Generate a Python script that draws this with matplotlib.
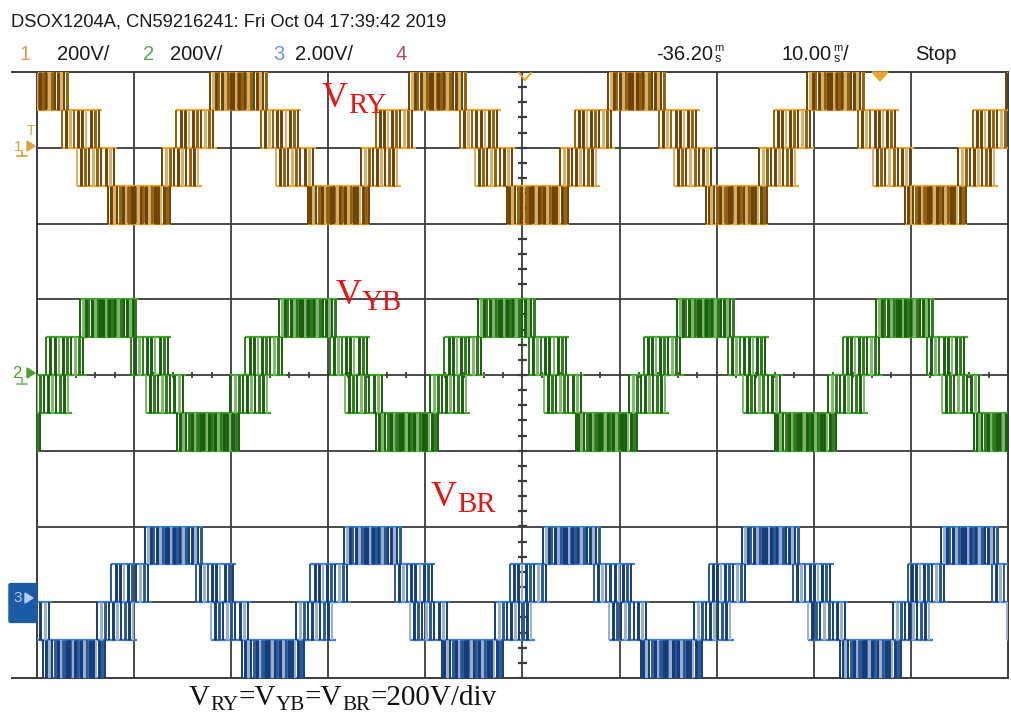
import numpy as np
import matplotlib
matplotlib.use('Agg')
import matplotlib.pyplot as plt
from matplotlib.lines import Line2D
from matplotlib.patches import FancyBboxPatch, Polygon

W, H, DPI = 1012, 715, 100

# ---------------- data ----------------
n_xdiv = 10            # horizontal divisions (10 ms/div)
n_ydiv = 8             # vertical divisions (200 V/div)
ms_per_div = 10.0
period_ms = 20.5       # fundamental period seen on screen
channel_names = ['VRY', 'VYB', 'VBR']
channel_ground_div = [3.0, 0.0, -3.0]     # ground marker of each trace
channel_peak_ms = [20.8, 7.4, 14.1]       # time of a positive peak of each trace
level_step_div = 0.5                      # one inverter level = 100 V
# staircase bands of one period, angle relative to the positive peak
band_lo = [1, 0, 0, -1, -1, -2]
band_hi = [2, 1, 1, 0, 0, -1]
band_start_deg = [-52, 40, -113, 67, -140, 124]
band_end_deg = [52, 113, -40, 140, -67, 236]
band_pulse_ms = [0.30, 0.42, 0.42, 0.42, 0.42, 0.30]

channel_dark = ['#704200', '#18600a', '#123c7c']
channel_light = ['#d8b068', '#7fb86c', '#9ab0d0']
channel_mid = ['#94600a', '#2c7a1c', '#285898']
channel_trace = ['#f0a428', '#3fa82a', '#3b7fd0']

header_left = 'DSOX1204A, CN59216241: Fri Oct 04 17:39:42 2019'
ch_scale_labels = ['200V/', '200V/', '2.00V/', '']
ch_label_colors = ['#d9a050', '#64a050', '#6a98c8', '#b0485e']

fig = plt.figure(figsize=(W / DPI, H / DPI), dpi=DPI)
fig.patch.set_facecolor('white')

L, R, T, B = 37, 1008, 72, 678
ax = fig.add_axes([L / W, 1 - B / H, (R - L) / W, (B - T) / H])
ax.set_xlim(0, n_xdiv * ms_per_div)
ax.set_ylim(-n_ydiv / 2, n_ydiv / 2)
ax.set_xticks([]); ax.set_yticks([])
grid_c = '#3c3c3c'
for s in ax.spines.values():
    s.set_color(grid_c); s.set_linewidth(1.4)

for i in range(1, n_xdiv):
    ax.axvline(i * ms_per_div, color=grid_c, lw=1.3, zorder=1)
for j in range(1, n_ydiv):
    ax.axhline(-n_ydiv / 2 + j, color=grid_c, lw=1.3, zorder=1)
# minor ticks on centre lines
xc = n_xdiv * ms_per_div / 2
ax.vlines(np.arange(0, 100.01, 2.0), -0.045, 0.045, color=grid_c, lw=1.3, zorder=1)
ax.hlines(np.arange(-4, 4.01, 0.2), xc - 0.45, xc + 0.45, color=grid_c, lw=1.6, zorder=1)

# ---------------- traces ----------------
for ci in range(3):
    g = channel_ground_div[ci]
    shades = [channel_dark[ci], channel_light[ci], channel_dark[ci], channel_mid[ci],
              channel_dark[ci], channel_light[ci], channel_mid[ci], channel_dark[ci]]
    xs_all, lo_all, hi_all, col_all, lw_all = [], [], [], [], []
    for k in range(-2, 7):
        tp = channel_peak_ms[ci] + k * period_ms
        for b in range(len(band_lo)):
            t0 = tp + band_start_deg[b] / 360 * period_ms
            t1 = tp + band_end_deg[b] / 360 * period_ms
            if t1 < 0 or t0 > 100:
                continue
            lo = g + band_lo[b] * level_step_div
            hi = g + band_hi[b] * level_step_div
            dense = band_pulse_ms[b] < 0.35
            if dense:
                c0 = t0 + 0.22 * (t1 - t0)
                c1 = t1 - 0.22 * (t1 - t0)
                ax.fill_between([c0, c1], lo, hi, color=channel_dark[ci], alpha=0.8,
                                lw=0, zorder=2)
            xs = np.arange(t0, t1, band_pulse_ms[b])
            for i, x in enumerate(xs):
                xs_all.append(x); lo_all.append(lo); hi_all.append(hi)
                col_all.append(shades[(i + 3 * b) % len(shades)])
                lw_all.append(2.1 if i % 3 else 1.4)
            ax.hlines([lo, hi], t0, t1, color=channel_trace[ci], lw=1.6, zorder=3)
    ax.vlines(xs_all, lo_all, hi_all, colors=col_all, lw=lw_all, zorder=4)

# ---------------- text ----------------
sans = ['Liberation Sans', 'DejaVu Sans']
def ftext(x, y, s, **kw):
    return fig.text(x / W, 1 - y / H, s, **kw)

ftext(11, 22, header_left, fontsize=13.2, family=sans, color='#1a1a1a', va='center')
num_x = [20, 143, 273, 395]
lab_x = [57, 170, 295, 0]
for i in range(4):
    ftext(num_x[i], 54, str(i + 1), fontsize=14.5, family=sans, color=ch_label_colors[i], va='center')
    if ch_scale_labels[i]:
        ftext(lab_x[i], 54, ch_scale_labels[i], fontsize=14.5, family=sans, color='#1a1a1a', va='center')

def stacked(x_end, prefix, suffix):
    ftext(x_end, 54, prefix, fontsize=14.5, family=sans, color='#1a1a1a', va='center', ha='right')
    ftext(x_end + 1, 48, 'm', fontsize=8, family=sans, color='#1a1a1a', va='center', ha='left')
    ftext(x_end + 2, 59, 's', fontsize=9, family=sans, color='#1a1a1a', va='center', ha='left')
    if suffix:
        ftext(x_end + 11, 54, suffix, fontsize=14.5, family=sans, color='#1a1a1a', va='center')

stacked(713, '-36.20', '')
stacked(832, '10.00', '/')
ftext(915, 54, 'Stop', fontsize=14.5, family=sans, color='#1a1a1a', va='center')

# extended border lines at left
fig.add_artist(Line2D([12 / W, L / W], [1 - T / H, 1 - T / H], color=grid_c, lw=1.4))
fig.add_artist(Line2D([12 / W, L / W], [1 - B / H, 1 - B / H], color=grid_c, lw=1.4))

# channel markers
ftext(14, 147, '1', fontsize=11, family=sans, color='#e0a040', va='center')
ftext(27, 131, 'T', fontsize=10, family=sans, color='#e0a040', va='center')
fig.add_artist(Polygon([[27 / W, 1 - 141 / H], [35 / W, 1 - 146 / H], [27 / W, 1 - 151 / H]],
                       closed=True, color='#e0a040'))
fig.add_artist(Line2D([17 / W, 27 / W], [1 - 156 / H, 1 - 156 / H], color='#e0a040', lw=1.2))
fig.add_artist(Line2D([22 / W, 22 / W], [1 - 151 / H, 1 - 156 / H], color='#e0a040', lw=1.2))
ftext(12, 373, '2', fontsize=12, family=sans, color='#4aa030', va='center')
fig.add_artist(Polygon([[27 / W, 1 - 368 / H], [35 / W, 1 - 373 / H], [27 / W, 1 - 378 / H]],
                       closed=True, color='#4aa030'))
fig.add_artist(Line2D([17 / W, 27 / W], [1 - 384 / H, 1 - 384 / H], color='#7ac060', lw=1.2))
fig.add_artist(Line2D([22 / W, 22 / W], [1 - 378 / H, 1 - 384 / H], color='#7ac060', lw=1.2))
fig.add_artist(FancyBboxPatch((11 / W, 1 - 621 / H), 24 / W, 36 / H,
                              boxstyle='round,pad=0.002', color='#1d5aa6', transform=fig.transFigure))
ftext(13, 598, '3', fontsize=11, family=sans, color='#b8cdea', va='center')
fig.add_artist(Polygon([[25 / W, 1 - 593 / H], [33 / W, 1 - 598 / H], [25 / W, 1 - 603 / H]],
                       closed=True, color='#b8cdea'))
# top markers
fig.add_artist(Polygon([[872 / W, 1 - 72 / H], [888 / W, 1 - 72 / H], [880 / W, 1 - 81 / H]],
                       closed=True, color='#f0a030'))
fig.add_artist(Line2D([519 / W, 525 / W, 531 / W], [1 - 73 / H, 1 - 80 / H, 1 - 73 / H],
                      color='#f0a030', lw=1.5))

# rich serif labels
renderer = fig.canvas.get_renderer()
def rich(x, y, runs, size, color, sub_scale=0.78, sub_drop=6):
    for s, sub in runs:
        fs = size * sub_scale if sub else size
        yy = y + (sub_drop if sub else 0)
        t = ftext(x, yy, s, fontsize=fs, family='Liberation Serif', color=color,
                  va='baseline', ha='left')
        x += t.get_window_extent(renderer=renderer).width

rich(322, 107, [('V', False), ('RY', True)], 26, '#ee1111', sub_scale=0.8, sub_drop=6)
rich(336, 304, [('V', False), ('YB', True)], 26, '#ee1111', sub_scale=0.8, sub_drop=6)
rich(431, 506, [('V', False), ('BR', True)], 26, '#ee1111', sub_scale=0.8, sub_drop=6)
rich(189, 705, [('V', False), ('RY', True), ('=V', False), ('YB', True), ('=V', False),
                ('BR', True), ('=200V/div', False)], 21, '#111111', sub_scale=0.72, sub_drop=5)

fig.savefig('out.png', dpi=DPI, facecolor='white')
